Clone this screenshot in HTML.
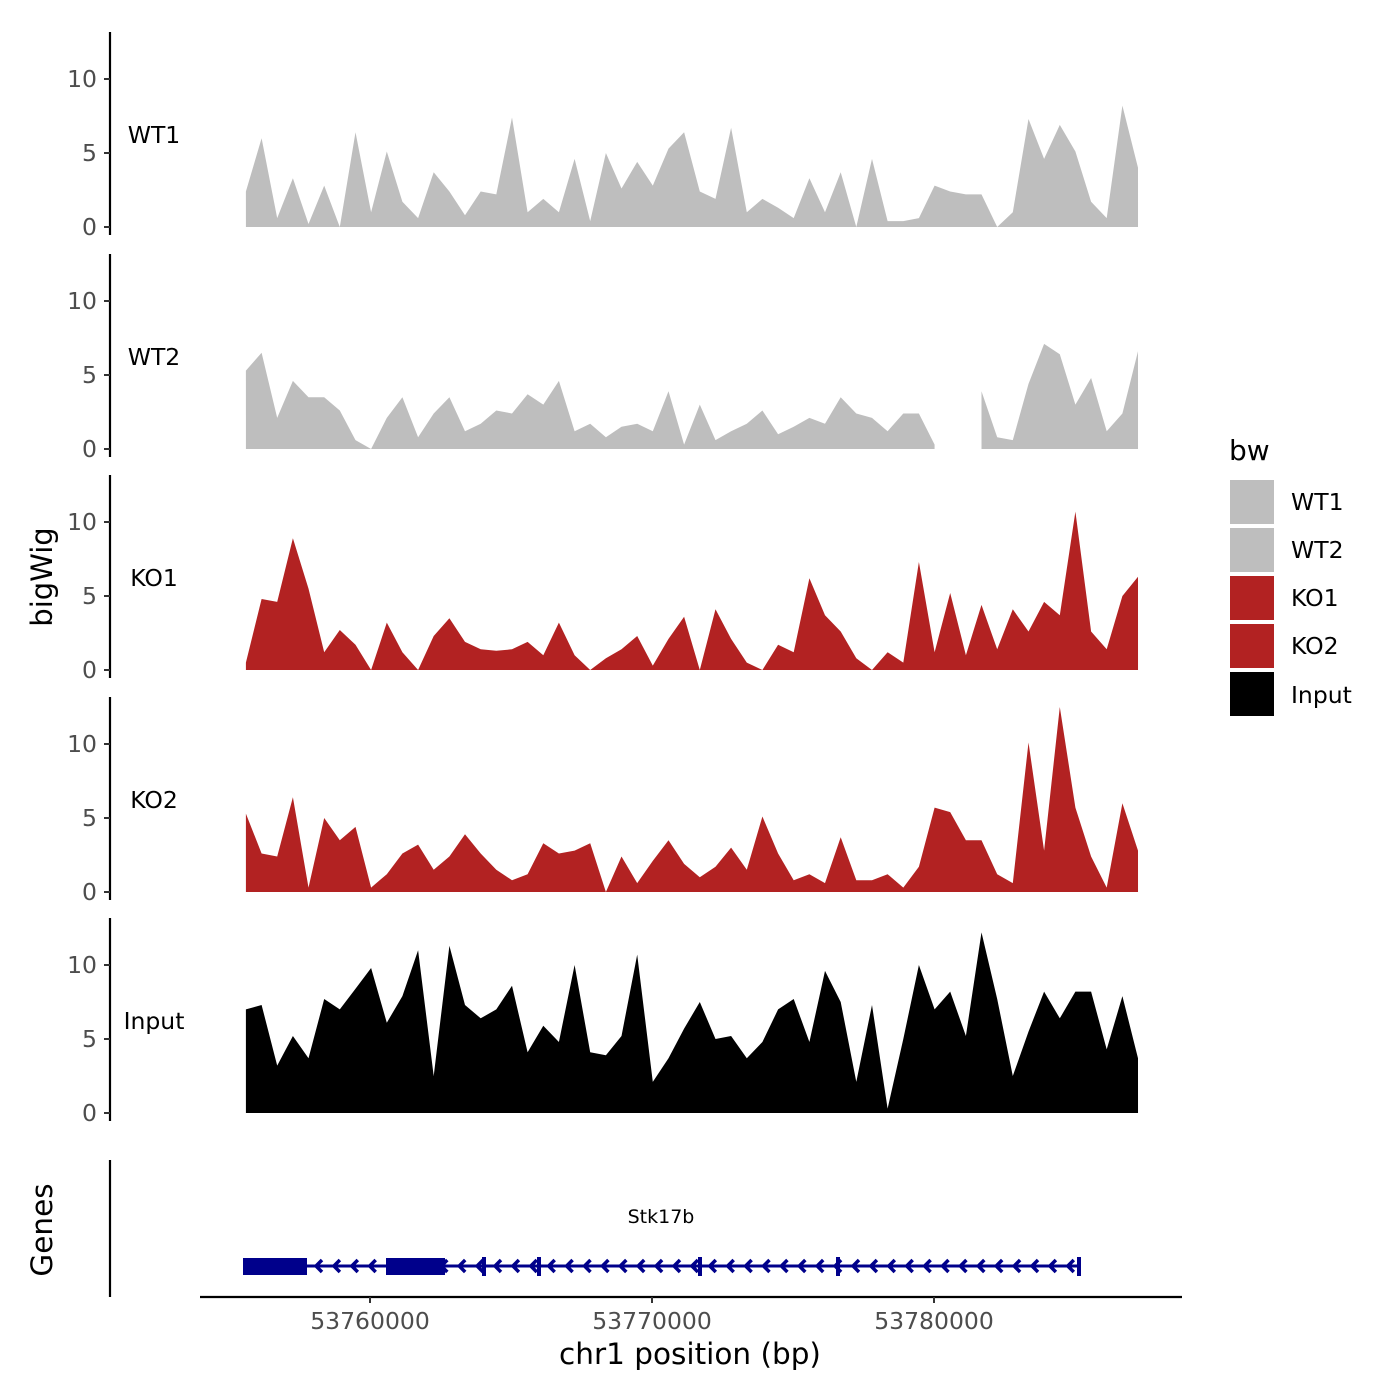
<!DOCTYPE html>
<html><head><meta charset="utf-8"><style>
html,body{margin:0;padding:0;background:#fff;}
svg{display:block;font-family:"DejaVu Sans","Liberation Sans",sans-serif;}
</style></head><body>
<svg id="chart" width="1400" height="1400" viewBox="0 0 1400 1400" xmlns="http://www.w3.org/2000/svg">
<g id="panels"></g>
<g id="genes"></g>
<g id="xaxis"></g>
<text transform="translate(52,577) rotate(-90)" text-anchor="middle" font-size="29" fill="#000">bigWig</text>
<text transform="translate(52,1230) rotate(-90)" text-anchor="middle" font-size="29.5" fill="#000">Genes</text>
<text x="690" y="1364" text-anchor="middle" font-size="29.5" fill="#000">chr1 position (bp)</text>
<g>
<text x="1229" y="460" font-size="28" fill="#000">bw</text>
<rect x="1230" y="480" width="44" height="44" fill="#bebebe"/>
<rect x="1230" y="528" width="44" height="44" fill="#bebebe"/>
<rect x="1230" y="576" width="44" height="44" fill="#b22222"/>
<rect x="1230" y="624" width="44" height="44" fill="#b22222"/>
<rect x="1230" y="672" width="44" height="44" fill="#000"/>
<text x="1291" y="510" font-size="23.5">WT1</text>
<text x="1291" y="558" font-size="23.5">WT2</text>
<text x="1291" y="606" font-size="23.5">KO1</text>
<text x="1291" y="654" font-size="23.5">KO2</text>
<text x="1291" y="703" font-size="23.5">Input</text>
</g>
</svg>
<script>
const trackNames = ["WT1","WT2","KO1","KO2","Input"];
const trackColors = ["#bebebe","#bebebe","#b22222","#b22222","#000000"];
const binStart = 53755600;
const binStep = 555;
const yTicks = [0,5,10];
const xTicks = [53760000,53770000,53780000];
const xTickLabels = ["53760000","53770000","53780000"];
const wt1 = [2.4,6.0,0.6,3.3,0.2,2.8,0,6.4,1.0,5.1,1.7,0.6,3.7,2.4,0.8,2.4,2.2,7.4,1.0,1.9,1.0,4.6,0.4,5.0,2.6,4.4,2.8,5.3,6.4,2.4,1.9,6.7,1.0,1.9,1.3,0.6,3.3,1.0,3.7,0,4.6,0.4,0.4,0.6,2.8,2.4,2.2,2.2,0,1.0,7.3,4.6,6.9,5.1,1.7,0.6,8.2,4.0];
const wt2 = [5.3,6.5,2.1,4.6,3.5,3.5,2.6,0.6,0,2.1,3.5,0.8,2.4,3.5,1.2,1.7,2.6,2.4,3.7,3.0,4.6,1.2,1.7,0.8,1.5,1.7,1.2,3.9,0.3,3.0,0.6,1.2,1.7,2.6,1.0,1.5,2.1,1.7,3.5,2.4,2.1,1.2,2.4,2.4,0.3,null,null,3.9,0.8,0.6,4.4,7.1,6.4,3.0,4.8,1.2,2.4,6.6];
const ko1 = [0.5,4.8,4.6,8.9,5.5,1.2,2.7,1.7,0,3.2,1.2,0,2.3,3.5,1.9,1.4,1.3,1.4,1.9,1.0,3.2,1.0,0,0.8,1.4,2.3,0.3,2.1,3.6,0,4.1,2.1,0.5,0,1.7,1.2,6.2,3.7,2.6,0.8,0,1.2,0.5,7.3,1.2,5.2,1.0,4.4,1.4,4.1,2.6,4.6,3.7,10.7,2.6,1.4,5.0,6.3];
const ko2 = [5.3,2.6,2.4,6.4,0.3,5.0,3.5,4.4,0.3,1.2,2.6,3.2,1.5,2.4,3.9,2.6,1.5,0.8,1.2,3.3,2.6,2.8,3.3,0,2.4,0.6,2.1,3.5,1.9,1.0,1.7,3.0,1.5,5.1,2.6,0.8,1.2,0.6,3.7,0.8,0.8,1.2,0.3,1.7,5.7,5.4,3.5,3.5,1.2,0.6,10.1,2.8,12.5,5.7,2.4,0.3,6.0,2.8];
const input = [7.0,7.3,3.2,5.2,3.7,7.7,7.0,8.4,9.8,6.1,7.9,11.0,2.5,11.3,7.3,6.4,7.0,8.6,4.1,5.9,4.8,10.0,4.1,3.9,5.2,10.7,2.1,3.7,5.7,7.5,5.0,5.2,3.7,4.8,7.0,7.7,4.8,9.6,7.5,2.1,7.3,0.3,5.0,10.0,7.0,8.2,5.2,12.2,7.7,2.5,5.5,8.2,6.4,8.2,8.2,4.3,7.9,3.7];
const trackValues = [wt1, wt2, ko1, ko2, input];

const NS = "http://www.w3.org/2000/svg";
function xScale(bp){ return 370 + (bp - 53760000) * 0.0282; }
const panelBase = [227, 449, 670, 892, 1113];
const unitPx = 14.8;
function yScale(p, v){ return panelBase[p] - v * unitPx; }
function mk(tag, attrs, parent){ const e=document.createElementNS(NS,tag); for(const k in attrs) e.setAttribute(k,attrs[k]); parent.appendChild(e); return e; }

const panels = document.getElementById('panels');
trackNames.forEach((name, p) => {
  const g = mk('g', {}, panels);
  
  
  const ax = mk('line', {x1:110, x2:110, y1:panelBase[p]-195, y2:panelBase[p]+8, stroke:'#000', 'stroke-width':2.2}, g);
  
  
  yTicks.forEach(t => {
    const y = yScale(p, t);
    const tk = mk('line', {x1:104, x2:110, y1:y, y2:y, stroke:'#333', 'stroke-width':2}, g);
    
    
    const tl = mk('text', {x:97, y:y+8, 'text-anchor':'end', 'font-size':23.5, fill:'#4d4d4d'}, g);
    
    
    tl.textContent = String(t);
  });
  const lab = mk('text', {x:154, y:panelBase[p]-84, 'text-anchor':'middle', 'font-size':23.5, fill:'#000'}, g);
  
  
  lab.textContent = name;
  const vals = trackValues[p];
  let seg = [];
  const segs = [];
  vals.forEach((v, i) => {
    if (v === null) { if (seg.length) segs.push(seg); seg = []; }
    else seg.push([xScale(binStart + i*binStep), yScale(p, v)]);
  });
  if (seg.length) segs.push(seg);
  segs.forEach(s => {
    const x0 = s[0][0], x1 = s[s.length-1][0];
    let d = 'M' + x0 + ',' + panelBase[p];
    s.forEach(pt => { d += ' L' + pt[0].toFixed(1) + ',' + pt[1].toFixed(1); });
    d += ' L' + x1 + ',' + panelBase[p] + ' Z';
    const a = mk('path', {d:d, fill:trackColors[p]}, g);
    
    
  });
});

const gg = document.getElementById('genes');
const gax = mk('line', {x1:110, x2:110, y1:1160, y2:1297, stroke:'#000', 'stroke-width':2.2}, gg);


const blue = '#00008b';
const gl = mk('line', {x1:244, x2:1079, y1:1266, y2:1266, stroke:blue, 'stroke-width':3}, gg);


for (let x = 316; x < 1075; x += 17.9) {
  const c = mk('path', {d:'M'+(x+6)+',1260 L'+x+',1266 L'+(x+6)+',1272', fill:'none', stroke:blue, 'stroke-width':3.5}, gg);
  
  
}
[[243,307],[386,445]].forEach(e => {
  const r = mk('rect', {x:e[0], y:1258, width:e[1]-e[0], height:17, fill:blue}, gg);
  
  
});
[484,539,700,838,1079].forEach(x => {
  const r = mk('rect', {x:x-2, y:1257, width:4, height:19, fill:blue}, gg);
  
  
});
const gn = mk('text', {x:661, y:1223, 'text-anchor':'middle', 'font-size':19, fill:'#000'}, gg);


gn.textContent = 'Stk17b';

const xa = document.getElementById('xaxis');
const xl = mk('line', {x1:200, x2:1182, y1:1297, y2:1297, stroke:'#000', 'stroke-width':2.2}, xa);


xTicks.forEach((t, i) => {
  const x = xScale(t);
  const tk = mk('line', {x1:x, x2:x, y1:1297, y2:1303, stroke:'#333', 'stroke-width':2}, xa);
  
  
  const tl = mk('text', {x:x, y:1329, 'text-anchor':'middle', 'font-size':23.5, fill:'#4d4d4d'}, xa);
  
  
  tl.textContent = xTickLabels[i];
});
</script>
</body></html>
